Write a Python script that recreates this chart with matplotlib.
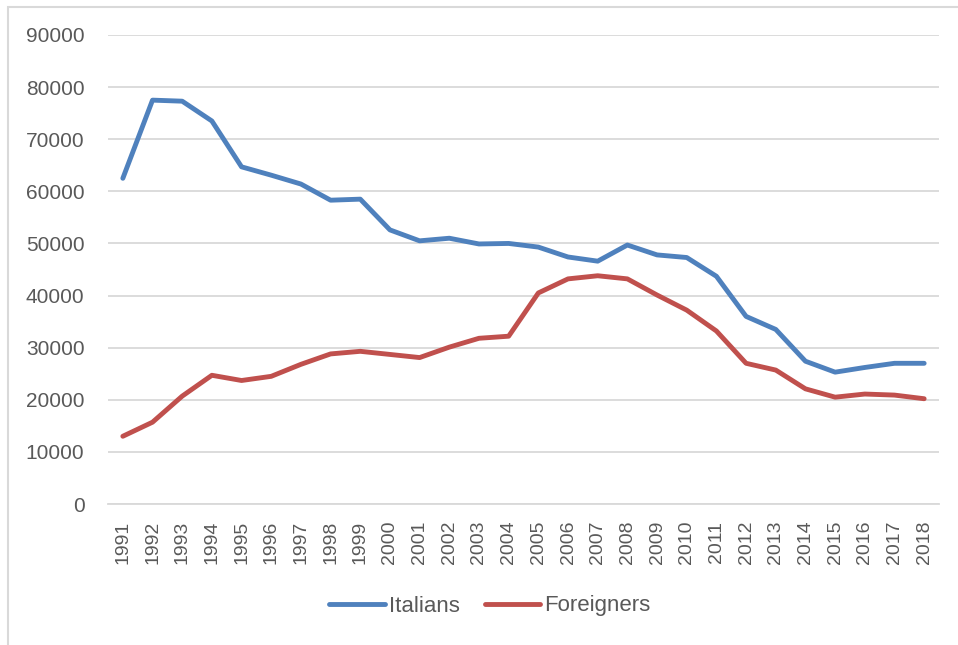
import numpy as np
import matplotlib.pyplot as plt
from matplotlib.patches import Rectangle

# data
years = [str(y) for y in range(1991, 2019)]
italians = [62500, 77500, 77300, 73500, 64700, 63100, 61400, 58300, 58500, 52600,
            50500, 51000, 49900, 50000, 49300, 47400, 46600, 49700, 47800, 47300,
            43700, 36000, 33500, 27400, 25300, 26200, 27000, 27000]
foreigners = [13000, 15700, 20700, 24700, 23700, 24500, 26800, 28800, 29300, 28700,
              28100, 30100, 31800, 32200, 40500, 43200, 43800, 43200, 40100, 37200,
              33200, 27000, 25700, 22100, 20500, 21100, 20900, 20200]
y_ticks = list(range(0, 90001, 10000))

text_col = '#595959'
grid_col = '#d9d9d9'

plt.rcParams['font.family'] = ['Liberation Sans', 'DejaVu Sans']

fig = plt.figure(figsize=(9.58, 6.45), dpi=100)
ax = fig.add_axes([108/958, 1-504/645, (939-108)/958, (504-35)/645])

x = np.arange(len(years))
ax.plot(x, italians, color='#4f81bd', lw=3.5, solid_capstyle='round', solid_joinstyle='round', label='Italians')
ax.plot(x, foreigners, color='#c0504d', lw=3.5, solid_capstyle='round', solid_joinstyle='round', label='Foreigners')

ax.set_xlim(-0.5, len(years) - 0.5)
ax.set_ylim(0, 90000)
ax.set_yticks(y_ticks)
ax.set_yticklabels([str(v) for v in y_ticks], fontsize=15, color=text_col)
ax.set_xticks(x)
ax.set_xticklabels(years, rotation=90, fontsize=14, color=text_col)
ax.tick_params(length=0)
ax.tick_params(axis='y', pad=17)
ax.tick_params(axis='x', pad=12)
ax.grid(axis='y', color=grid_col, lw=1.3)
ax.set_axisbelow(True)
for s in ['top', 'right', 'left']:
    ax.spines[s].set_visible(False)
ax.spines['bottom'].set_color(grid_col)
ax.spines['bottom'].set_linewidth(1.3)

leg = fig.legend(loc='center', bbox_to_anchor=(490/958, 1-606/645), ncol=2, frameon=False,
                 fontsize=16, handlelength=2.5, handletextpad=0.2, columnspacing=1.1)
for t in leg.get_texts():
    t.set_color(text_col)

# chart border (cropped on right and bottom)
fig.patches.append(Rectangle((8/958, -0.1), 1.2, 1 - 7/645 + 0.1, transform=fig.transFigure,
                             fill=False, edgecolor=grid_col, lw=1.5))

fig.savefig('out.png', dpi=100)
